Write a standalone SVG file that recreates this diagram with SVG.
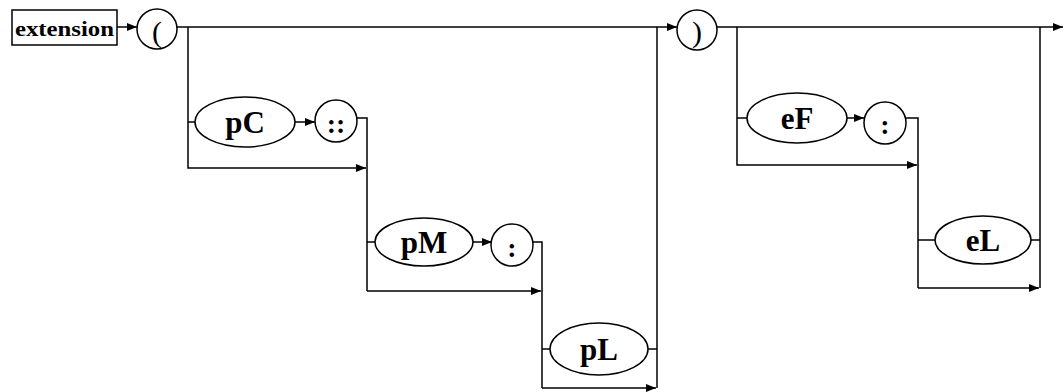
<svg xmlns="http://www.w3.org/2000/svg" width="1064" height="392" viewBox="0 0 1064 392">
<defs>
<marker id="arr" markerUnits="userSpaceOnUse" markerWidth="12" markerHeight="10" refX="10" refY="4.5" orient="auto">
<path d="M0,0.5 L10,4.5 L0,8.5 z" fill="#000"/>
</marker>
<style>
.shape{fill:#fff;stroke:#000;stroke-width:1.5}
.ln{fill:none;stroke:#000;stroke-width:1.5}
.lbl{font-family:"Liberation Serif","Times New Roman",serif;font-weight:bold;fill:#000;text-anchor:middle}
.big{font-size:31px}
.pun{font-size:28px}
.par{font-family:"Liberation Serif","Times New Roman",serif;font-size:30px;fill:#000;text-anchor:middle}
</style>
</defs>
<rect width="1064" height="392" fill="#fff"/>
<g id="connectors">
<path class="ln" d="M117,27 H137" marker-end="url(#arr)"/>
<path class="ln" d="M177,27 H677" marker-end="url(#arr)"/>
<path class="ln" d="M188,27 V168 H366" marker-end="url(#arr)"/>
<path class="ln" d="M188,122 H195"/>
<path class="ln" d="M295,122 H315" marker-end="url(#arr)"/>
<path class="ln" d="M356,118 H367 V291"/>
<path class="ln" d="M367,242 H375"/>
<path class="ln" d="M473,242 H492" marker-end="url(#arr)"/>
<path class="ln" d="M367,291 H541" marker-end="url(#arr)"/>
<path class="ln" d="M532,242 H542 V388"/>
<path class="ln" d="M542,349 H550"/>
<path class="ln" d="M648,349 H657"/>
<path class="ln" d="M542,388 H656" marker-end="url(#arr)"/>
<path class="ln" d="M657,388 V27"/>
<path class="ln" d="M717,27 H1063" marker-end="url(#arr)"/>
<path class="ln" d="M737,27 V165 H917" marker-end="url(#arr)"/>
<path class="ln" d="M737,118 H747"/>
<path class="ln" d="M847,118 H864" marker-end="url(#arr)"/>
<path class="ln" d="M905,118 H918 V288"/>
<path class="ln" d="M918,240 H935"/>
<path class="ln" d="M1031,240 H1040"/>
<path class="ln" d="M918,288 H1039" marker-end="url(#arr)"/>
<path class="ln" d="M1040,27 V288"/>
</g>
<g id="extension">
<rect class="shape" x="12" y="10" width="105" height="35"/>
<text class="lbl" x="64.5" y="36" font-size="22" textLength="99" lengthAdjust="spacingAndGlyphs">extension</text>
</g>
<g id="lparen">
<circle class="shape" cx="157" cy="29" r="20"/>
<text class="par" x="157" y="42">(</text>
</g>
<g id="pC">
<ellipse class="shape" cx="245" cy="122" rx="50" ry="25"/>
<text class="lbl big" x="245" y="133">pC</text>
</g>
<g id="dcolon">
<circle class="shape" cx="336" cy="121" r="21"/>
<text class="lbl pun" x="336" y="133">::</text>
</g>
<g id="pM">
<ellipse class="shape" cx="424" cy="242" rx="49" ry="24"/>
<text class="lbl big" x="424" y="253">pM</text>
</g>
<g id="colon1">
<circle class="shape" cx="512" cy="245" r="21"/>
<text class="lbl pun" x="512" y="257">:</text>
</g>
<g id="pL">
<ellipse class="shape" cx="599" cy="349" rx="49" ry="26"/>
<text class="lbl big" x="599" y="360">pL</text>
</g>
<g id="rparen">
<circle class="shape" cx="697" cy="30" r="20"/>
<text class="par" x="697" y="42">)</text>
</g>
<g id="eF">
<ellipse class="shape" cx="797" cy="118" rx="50" ry="25"/>
<text class="lbl big" x="797" y="129">eF</text>
</g>
<g id="colon2">
<circle class="shape" cx="885" cy="123" r="21"/>
<text class="lbl pun" x="885" y="134">:</text>
</g>
<g id="eL">
<ellipse class="shape" cx="983" cy="240" rx="48" ry="24"/>
<text class="lbl big" x="983" y="251">eL</text>
</g>
</svg>
